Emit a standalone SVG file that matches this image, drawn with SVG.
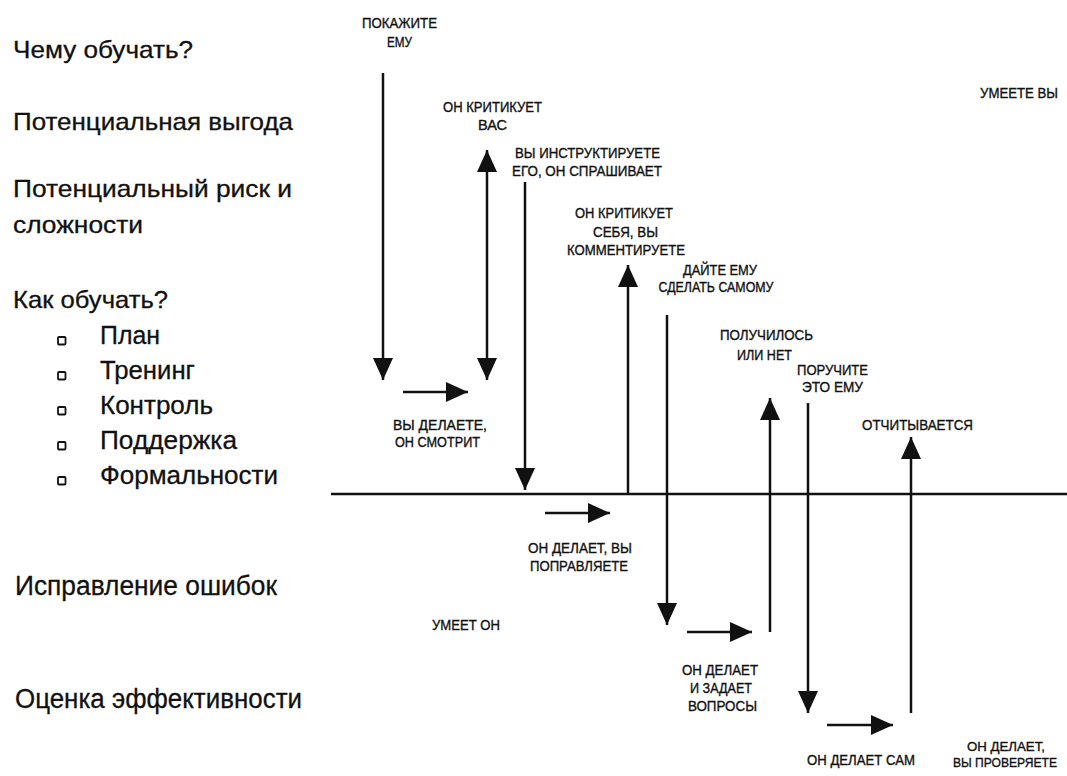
<svg xmlns="http://www.w3.org/2000/svg" width="1067" height="776" viewBox="0 0 1067 776">
<style>
.h{font-family:"Liberation Sans",Arial,sans-serif;font-size:24px;fill:#111;stroke:#111;stroke-width:0.3}
.li{font-family:"Liberation Sans",Arial,sans-serif;font-size:26px;fill:#111;stroke:#111;stroke-width:0.3}
.b{font-family:"Liberation Sans",Arial,sans-serif;font-size:27px;fill:#111;stroke:#111;stroke-width:0.3}
.s{font-family:"Liberation Sans",Arial,sans-serif;font-size:14px;fill:#111;stroke:#111;stroke-width:0.35;text-anchor:middle}
.ln{stroke:#111;stroke-width:2.5;fill:none}
.ar{stroke:#111;stroke-width:2.5;fill:none;marker-end:url(#ah)}
.bx{fill:#fff;stroke:#111;stroke-width:1.8}
</style>
<defs>
<marker id="ah" markerUnits="userSpaceOnUse" markerWidth="24" markerHeight="22" refX="22" refY="10" orient="auto-start-reverse" viewBox="0 0 24 22">
<path d="M0,0 L22,10 L0,20 z" fill="#111"/>
</marker>
</defs>
<rect width="1067" height="776" fill="#fff"/>

<g id="left-headings">
<text class="h" x="13" y="58" textLength="180" lengthAdjust="spacingAndGlyphs">Чему обучать?</text>
<text class="h" x="13" y="130" textLength="280" lengthAdjust="spacingAndGlyphs">Потенциальная выгода</text>
<text class="h" x="13" y="197" textLength="279" lengthAdjust="spacingAndGlyphs">Потенциальный риск и</text>
<text class="h" x="13" y="233" textLength="130" lengthAdjust="spacingAndGlyphs">сложности</text>
<text class="h" x="13" y="308" textLength="155" lengthAdjust="spacingAndGlyphs">Как обучать?</text>
</g>
<g id="list">
<rect class="bx" x="58" y="337" width="7.5" height="7.5" rx="1"/>
<text class="li" x="100" y="344" textLength="60" lengthAdjust="spacingAndGlyphs">План</text>
<rect class="bx" x="58" y="372" width="7.5" height="7.5" rx="1"/>
<text class="li" x="100" y="379" textLength="95" lengthAdjust="spacingAndGlyphs">Тренинг</text>
<rect class="bx" x="58" y="407" width="7.5" height="7.5" rx="1"/>
<text class="li" x="100" y="414" textLength="113" lengthAdjust="spacingAndGlyphs">Контроль</text>
<rect class="bx" x="58" y="442" width="7.5" height="7.5" rx="1"/>
<text class="li" x="100" y="449" textLength="137" lengthAdjust="spacingAndGlyphs">Поддержка</text>
<rect class="bx" x="58" y="477" width="7.5" height="7.5" rx="1"/>
<text class="li" x="100" y="484" textLength="178" lengthAdjust="spacingAndGlyphs">Формальности</text>
</g>
<g id="left-bottom">
<text class="b" x="15" y="595" textLength="262" lengthAdjust="spacingAndGlyphs">Исправление ошибок</text>
<text class="b" x="15" y="708" textLength="287" lengthAdjust="spacingAndGlyphs">Оценка эффективности</text>
</g>

<g id="connectors">
<line class="ln" x1="331" y1="494" x2="1067" y2="494"/>
<line class="ar" x1="383" y1="73" x2="383" y2="380"/>
<line class="ar" x1="487" y1="150" x2="487" y2="380" style="marker-start:url(#ah)"/>
<line class="ar" x1="403" y1="392" x2="468" y2="392"/>
<line class="ar" x1="525" y1="182" x2="525" y2="490"/>
<line class="ar" x1="628" y1="494" x2="628" y2="265"/>
<line class="ar" x1="667" y1="315" x2="667" y2="625"/>
<line class="ar" x1="545" y1="513" x2="610" y2="513"/>
<line class="ar" x1="687" y1="632" x2="752" y2="632"/>
<line class="ar" x1="770" y1="632" x2="770" y2="398"/>
<line class="ar" x1="808" y1="403" x2="808" y2="713"/>
<line class="ar" x1="827" y1="725" x2="893" y2="725"/>
<line class="ar" x1="911" y1="713" x2="911" y2="437"/>
</g>

<g id="n-show"><text class="s" x="399.5" y="28" textLength="75" lengthAdjust="spacingAndGlyphs">ПОКАЖИТЕ</text><text class="s" x="399.5" y="47" textLength="25" lengthAdjust="spacingAndGlyphs">ЕМУ</text></g>
<g id="n-critic-you"><text class="s" x="492.5" y="112" textLength="99" lengthAdjust="spacingAndGlyphs">ОН КРИТИКУЕТ</text><text class="s" x="492.5" y="130" textLength="29" lengthAdjust="spacingAndGlyphs">ВАС</text></g>
<g id="n-instruct"><text class="s" x="587.5" y="158" textLength="145" lengthAdjust="spacingAndGlyphs">ВЫ ИНСТРУКТИРУЕТЕ</text><text class="s" x="587" y="176" textLength="150" lengthAdjust="spacingAndGlyphs">ЕГО, ОН СПРАШИВАЕТ</text></g>
<g id="n-critic-self"><text class="s" x="624" y="218" textLength="98" lengthAdjust="spacingAndGlyphs">ОН КРИТИКУЕТ</text><text class="s" x="625.5" y="237" textLength="65" lengthAdjust="spacingAndGlyphs">СЕБЯ, ВЫ</text><text class="s" x="626" y="255" textLength="118" lengthAdjust="spacingAndGlyphs">КОММЕНТИРУЕТЕ</text></g>
<g id="n-let"><text class="s" x="720" y="275" textLength="74" lengthAdjust="spacingAndGlyphs">ДАЙТЕ ЕМУ</text><text class="s" x="716" y="292" textLength="115" lengthAdjust="spacingAndGlyphs">СДЕЛАТЬ САМОМУ</text></g>
<g id="n-you-do"><text class="s" x="440" y="430" textLength="94" lengthAdjust="spacingAndGlyphs">ВЫ ДЕЛАЕТЕ,</text><text class="s" x="437.5" y="447" textLength="85" lengthAdjust="spacingAndGlyphs">ОН СМОТРИТ</text></g>
<g id="n-result"><text class="s" x="766.5" y="340" textLength="93" lengthAdjust="spacingAndGlyphs">ПОЛУЧИЛОСЬ</text><text class="s" x="764.5" y="360" textLength="55" lengthAdjust="spacingAndGlyphs">ИЛИ НЕТ</text></g>
<g id="n-assign"><text class="s" x="832.5" y="375" textLength="71" lengthAdjust="spacingAndGlyphs">ПОРУЧИТЕ</text><text class="s" x="832.5" y="392" textLength="61" lengthAdjust="spacingAndGlyphs">ЭТО ЕМУ</text></g>
<g id="n-report"><text class="s" x="917.5" y="430" textLength="111" lengthAdjust="spacingAndGlyphs">ОТЧИТЫВАЕТСЯ</text></g>
<g id="n-can-you"><text class="s" x="1019" y="98" textLength="78" lengthAdjust="spacingAndGlyphs">УМЕЕТЕ ВЫ</text></g>
<g id="n-correct"><text class="s" x="580" y="553" textLength="104" lengthAdjust="spacingAndGlyphs">ОН ДЕЛАЕТ, ВЫ</text><text class="s" x="579" y="571" textLength="98" lengthAdjust="spacingAndGlyphs">ПОПРАВЛЯЕТЕ</text></g>
<g id="n-can-he"><text class="s" x="466" y="630" textLength="68" lengthAdjust="spacingAndGlyphs">УМЕЕТ ОН</text></g>
<g id="n-asks"><text class="s" x="720" y="675" textLength="76" lengthAdjust="spacingAndGlyphs">ОН ДЕЛАЕТ</text><text class="s" x="721" y="693" textLength="62" lengthAdjust="spacingAndGlyphs">И ЗАДАЕТ</text><text class="s" x="722.5" y="711" textLength="69" lengthAdjust="spacingAndGlyphs">ВОПРОСЫ</text></g>
<g id="n-self"><text class="s" x="861" y="765" textLength="108" lengthAdjust="spacingAndGlyphs">ОН ДЕЛАЕТ САМ</text></g>
<g id="n-check"><text class="s" x="1006" y="751" textLength="78" lengthAdjust="spacingAndGlyphs" style="font-size:13px">ОН ДЕЛАЕТ,</text><text class="s" x="1005" y="767" textLength="104" lengthAdjust="spacingAndGlyphs" style="font-size:13px">ВЫ ПРОВЕРЯЕТЕ</text></g>
</svg>
